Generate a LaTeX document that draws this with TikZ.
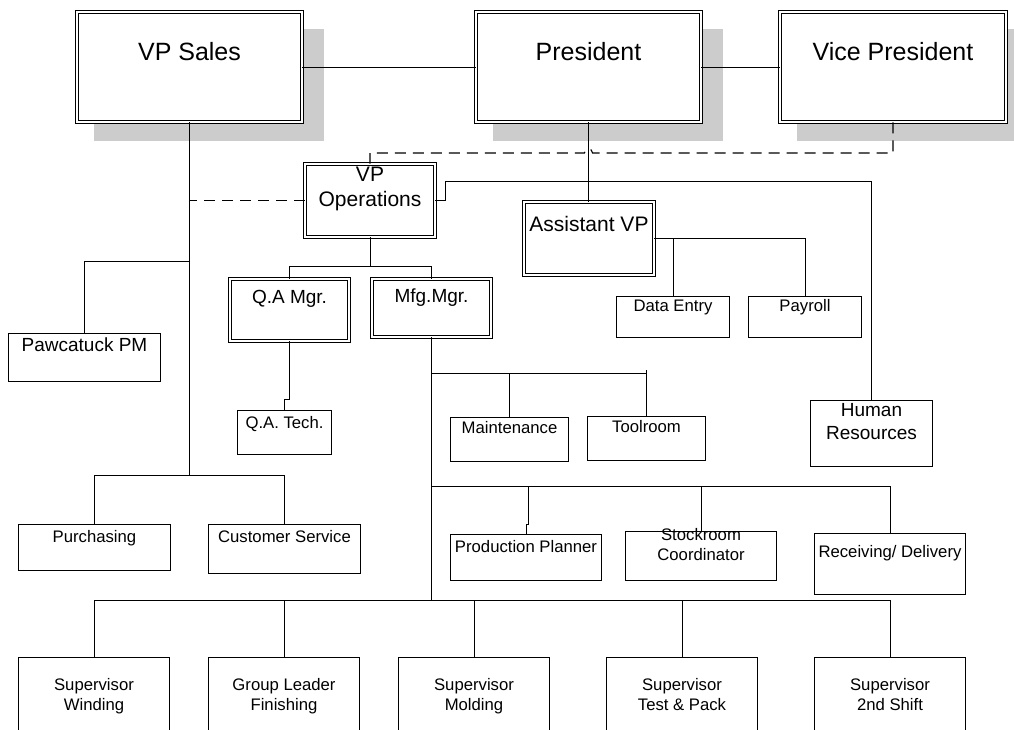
\documentclass[tikz,border=0pt]{standalone}
\usepackage{fontspec}
\setmainfont{Liberation Sans}
\usetikzlibrary{calc,positioning,shadows}
\tikzset{
    unit/.style={
    rectangle,draw=black,line width=1pt,inner sep=0pt
    },
    mgr/.style={
    rectangle,draw=black,line width=0.9pt,double,double distance=2pt,inner sep=0pt
    },
    officer/.style={
    mgr,fill=white,minimum width=225pt,minimum height=110pt,
    drop shadow={shadow xshift=19pt,shadow yshift=-18pt,shadow scale=1.02,fill=black!20,opacity=1}
    },
    staff/.style={
    unit,minimum width=151pt,minimum height=100pt
    },
    boxtext/.style={anchor=north,inner sep=0pt,align=center},
    ltop/.style={boxtext,font=\fontsize{25}{30}\selectfont},
    lmid/.style={boxtext,font=\fontsize{21}{25}\selectfont},
    lsub/.style={boxtext,font=\fontsize{19}{23}\selectfont},
    lsmall/.style={boxtext,font=\fontsize{16.7}{20}\selectfont},
    link/.style={draw=black,line width=1pt},
    dlink/.style={draw=black,line width=1.1pt,dash pattern=on 11pt off 7pt},
}

\begin{document}
\begin{tikzpicture}[x=1pt,y=-1pt,on grid]
  \path[use as bounding box,clip] (0,0) rectangle (1014,729);

  % officers
  \node[officer,label={[ltop,yshift=-31pt]90:VP Sales}] (VPS) at (189.5,67) {};
  \node[officer,label={[ltop,yshift=-31pt]90:President}] (PRES) [right=399pt of VPS] {};
  \node[officer,minimum width=226pt,label={[ltop,yshift=-31pt]90:Vice President}] (VPRES) [right=304.5pt of PRES] {};

  % managers
  \node[mgr,minimum width=130pt,minimum height=73pt,label={[lmid,yshift=-3pt]90:VP\\Operations}] (VPOPS) at (370,200.5) {};
  \node[mgr,minimum width=130pt,minimum height=73pt,label={[lmid,yshift=-15pt]90:Assistant VP}] (AVP) at (589,238.5) {};
  \node[mgr,minimum width=119pt,minimum height=62pt,label={[lsub,yshift=-11.5pt]90:Q.A Mgr.}] (QAM) at (289.5,310) {};
  \node[mgr,minimum width=119pt,minimum height=58pt,label={[lsub,yshift=-9.5pt]90:Mfg.Mgr.}] (MFG) at (431.5,308) {};

  % departments
  \node[unit,minimum width=152pt,minimum height=48pt,label={[lsub,yshift=-5pt]90:Pawcatuck PM}] (PAW) at (84.5,357.5) {};
  \node[unit,minimum width=94pt,minimum height=44pt,label={[lsmall,yshift=-6.5pt]90:Q.A. Tech.}] (QAT) at (284.5,432.5) {};
  \node[unit,minimum width=152pt,minimum height=46pt,label={[lsmall,yshift=-6.5pt]90:Purchasing}] (PUR) at (94.5,547.5) {};
  \node[unit,minimum width=152pt,minimum height=49pt,label={[lsmall,yshift=-6.5pt]90:Customer Service}] (CUS) at (284.5,549) {};
  \node[unit,minimum width=113pt,minimum height=41pt,label={[lsmall,yshift=-3.5pt]90:Data Entry}] (DATA) at (673,317) {};
  \node[unit,minimum width=113pt,minimum height=41pt,label={[lsmall,yshift=-3.5pt]90:Payroll}] (PAY) [right=132pt of DATA] {};
  \node[unit,minimum width=118pt,minimum height=44pt,label={[lsmall,yshift=-4.5pt]90:Maintenance}] (MAINT) at (509.5,439.5) {};
  \node[unit,minimum width=118pt,minimum height=44pt,label={[lsmall,yshift=-4.5pt]90:Toolroom}] (TOOL) at (646.5,438.5) {};
  \node[unit,minimum width=122pt,minimum height=66pt,label={[lsub,yshift=-3pt]90:Human\\Resources}] (HR) at (871.5,433.5) {};
  \node[unit,minimum width=151pt,minimum height=46pt,label={[lsmall,yshift=-6.5pt]90:Production Planner}] (PLAN) at (526,557.5) {};
  \node[unit,minimum width=151pt,minimum height=49pt,label={[lsmall,yshift=2.5pt]90:Stockroom\\Coordinator}] (STOCK) at (701,556) {};
  \node[unit,minimum width=151pt,minimum height=61pt,label={[lsmall,yshift=-12.5pt]90:Receiving/ Delivery}] (RECV) at (890,564) {};

  % supervisors
  \node[staff,label={[lsmall,yshift=-21.5pt]90:Supervisor\\Winding}] (SUPW) at (94,707) {};
  \node[staff,label={[lsmall,yshift=-21.5pt]90:Group Leader\\Finishing}] (GLF) [right=190pt of SUPW] {};
  \node[staff,label={[lsmall,yshift=-21.5pt]90:Supervisor\\Molding}] (SUPM) [right=190pt of GLF] {};
  \node[staff,label={[lsmall,yshift=-21.5pt]90:Supervisor\\Test \& Pack}] (SUPT) [right=208pt of SUPM] {};
  \node[staff,label={[lsmall,yshift=-21.5pt]90:Supervisor\\2nd Shift}] (SUP2) [right=208pt of SUPT] {};

  % junctions
  \path (VPS.south) ++(0,353.5) coordinate (SALES);
  \path (VPRES.south) ++(0,30.5) coordinate (HOP);
  \path (MFG.south) ++(0,36.5) coordinate (MFGA) ++(0,113) coordinate (MFGB) ++(0,114) coordinate (MFGC);

  % sales side
  \draw[link] (VPS) -- (PRES);
  \draw[link] (PRES) -- (VPRES);
  \draw[link] (VPS.south) -- (SALES);
  \draw[link] (PUR.north) |- (SALES) -| (CUS.north);
  \draw[link] (PAW.north) |- ($(VPS.south)+(0,139.5)$);
  \draw[dlink] (VPOPS.west) -- (VPOPS.west -| VPS.south);
  \draw[dlink] (VPRES.south) -- (HOP) -- ($(HOP -| PRES.south)+(4,0)$)
    arc[start angle=0,end angle=180,radius=4pt] -| (VPOPS.north);

  % president side
  \draw[link] (PRES.south) -- (PRES.south |- AVP.north);
  \draw[link] (VPOPS.east) -- ++(10,0) -- ++(0,-19.5) -| (HR.north);
  \draw[link] (AVP.east) -| (PAY.north);
  \draw[link] (DATA.north) -- (DATA.north |- AVP.east);

  % operations
  \draw[link] (VPOPS.south) -- ++(0,29.5) coordinate (OPS);
  \draw[link] (QAM.north) |- (OPS) -| (MFG.north);
  \draw[link] (QAM.south) -- ++(0,58.5) -| (QAT.north);
  \draw[link] (MFG.south) -- (MFGC);
  \draw[link] (MFGA) -- (MFGA -| TOOL.north);
  \draw[link] (MAINT.north) -- (MAINT.north |- MFGA);
  \draw[link] (TOOL.north) -- ++(0,-46);
  \draw[link] (MFGB) -| (RECV.north);
  \draw[link] (STOCK.north) -- (STOCK.north |- MFGB);
  \draw[link] (PLAN.north) -- ++(0,-10) -| ($(PLAN.north |- MFGB)+(2,0)$);
  \draw[link] (SUPW.north) |- (MFGC) -| (SUP2.north);
  \foreach \n in {GLF,SUPM,SUPT}
    \draw[link] (\n.north) -- (\n.north |- MFGC);
\end{tikzpicture}
\end{document}
